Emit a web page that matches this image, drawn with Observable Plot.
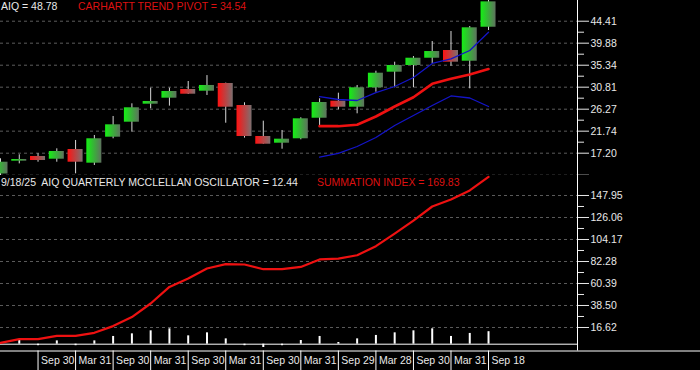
<!DOCTYPE html>
<html><head><meta charset="utf-8">
<script src="https://cdn.jsdelivr.net/npm/d3@7"></script>
<script src="https://cdn.jsdelivr.net/npm/@observablehq/plot@0.6"></script>
<style>
html,body{margin:0;padding:0;background:#000;}
#chart{position:relative;width:700px;height:370px;background:#000;overflow:hidden;font-family:"Liberation Sans",Arial,sans-serif;}
#chart svg{position:absolute;left:0;display:block;}
.lbl{position:absolute;font-size:10.5px;white-space:pre;line-height:12px;}
</style></head><body><div id="chart"></div>
<script>
// ---- data (quarterly) ----
const quarters = d3.range(27);
const openV  = [12.91,15.55,16.52,15.96,17.96,15.14,20.50,23.59,27.30,28.54,30.33,29.98,31.57,27.03,20.64,19.26,20.17,24.41,27.92,26.68,30.68,33.90,35.28,36.78,38.37,36.16,43.17];
const highV  = [16.05,16.87,17.08,18.10,19.82,20.85,24.77,27.38,30.60,30.60,31.98,33.20,31.65,27.59,23.80,21.88,24.50,28.41,29.57,31.16,34.10,35.96,37.13,40.22,42.29,43.32,48.78];
const lowV   = [12.50,15.00,15.34,15.34,12.95,14.66,20.17,21.53,26.35,26.90,29.30,29.10,23.38,20.30,19.05,18.02,19.96,22.91,26.15,25.32,29.77,30.68,30.68,35.63,35.13,30.47,42.49];
const closeV = [15.34,15.90,15.69,17.55,15.34,20.17,23.05,26.56,27.86,29.92,29.36,31.16,26.68,20.64,19.05,20.09,24.29,27.65,26.68,30.68,33.69,35.28,36.78,38.16,35.96,43.05,48.40];

const bandStart = 17;
const pivotV = [22.77,22.77,23.05,24.76,26.83,28.74,31.50,32.54,33.42,34.54];
const upperV = [28.88,28.27,28.06,29.70,30.95,32.80,35.70,36.66,38.37,42.14];
const lowerV = [16.37,17.14,18.58,20.44,22.91,24.97,27.03,29.00,28.58,26.83];

const siV  = [1.3,5,5,8.3,8.3,11.3,18,27,40.5,57,65.4,75.3,79.6,79.3,74.6,74.6,76.9,84.3,85.2,88.5,97.5,110,123,137,144,153,166.5];
const oscV = [null,4.3,-1.5,3.3,-1.5,3.3,7.7,10.3,13.3,15.3,8.3,11.3,5.3,-1.5,-3.3,-1.5,3.7,7.7,1.7,5.3,8.7,11.3,13.3,15.3,7.7,10.7,12.44];

const topTickV = [17.20,21.74,26.27,30.81,35.34,39.88,44.41];
const topEdgeTick = 12.665;
const botTickV = [16.62,38.50,60.39,82.28,104.17,126.06,147.95];
const xLabelIdx = [2,4,6,8,10,12,14,16,18,20,22,24,26];
const xLabels = ["Sep 30","Mar 31","Sep 30","Mar 31","Sep 30","Mar 31","Sep 30","Mar 31","Sep 29","Mar 28","Sep 30","Mar 31","Sep 18"];

const hdrPrice = "AIQ = 48.78";
const hdrPivot = "CARHARTT TREND PIVOT = 34.54";
const hdrOsc = "9/18/25  AIQ QUARTERLY MCCLELLAN OSCILLATOR = 12.44";
const hdrSI = "SUMMATION INDEX = 169.83";

// ---- build ----
const FONT = '"Liberation Sans", Arial, sans-serif';
const GRID = "#5c5c5c";
const RED = "#ee1111";
const BLUE = "#1414c8";
const WHITE = "#e8e8e8";
const xDomain = [0, 30.74];
const topDomain = [12.60, 48.68];
const botDomain = [-0.31, 167.85];

const candles = quarters.map(i => ({i, o: openV[i], h: highV[i], l: lowV[i], c: closeV[i]}));
const ups = candles.filter(d => d.c >= d.o);
const dns = candles.filter(d => d.c < d.o);
const band = (arr) => arr.map((v, k) => ({i: bandStart + k, v}));
const si = quarters.map(i => ({i, v: siV[i]}));
const osc = quarters.map(i => ({i, v: oscV[i]})).filter(d => d.v != null);
const mids = (a) => a.slice(1).map((v, k) => (v + a[k]) / 2);

const xs = Plot.scale({x: {domain: xDomain, range: [0, 577]}});
const yb = Plot.scale({y: {domain: botDomain, range: [169, 0]}});

const plotStyle = {background: "transparent", color: WHITE, fontFamily: FONT, fontSize: "10.5px"};

const topSvg = Plot.plot({
  width: 700, height: 175, marginLeft: 0, marginRight: 123, marginTop: 0, marginBottom: 0,
  style: plotStyle,
  x: {domain: xDomain, axis: null},
  y: {domain: topDomain, axis: null},
  marks: [
    Plot.ruleY([...topTickV, topEdgeTick], {stroke: GRID, strokeDasharray: "3,3"}),
    Plot.ruleX(candles, {x: "i", y1: "l", y2: "h", stroke: "#d8d8d8"}),
    Plot.rect(ups, {x1: d => d.i - 0.4, x2: d => d.i + 0.4, y1: "o", y2: "c", fill: "url(#gUp)"}),
    Plot.rect(dns, {x1: d => d.i - 0.4, x2: d => d.i + 0.4, y1: "o", y2: "c", fill: "url(#gDn)"}),
    Plot.line(band(upperV), {x: "i", y: "v", stroke: BLUE, strokeWidth: 1.3}),
    Plot.line(band(lowerV), {x: "i", y: "v", stroke: BLUE, strokeWidth: 1.3}),
    Plot.line(band(pivotV), {x: "i", y: "v", stroke: RED, strokeWidth: 2.6}),
    Plot.ruleX([xDomain[1]], {stroke: "#fff"}),
    Plot.axisY({anchor: "right", label: null, ticks: [...topTickV, topEdgeTick], tickSize: 11, tickPadding: 2, fontSize: 10.5,
      tickFormat: d => d < 13 ? "" : d.toFixed(2)}),
    Plot.axisY({anchor: "right", label: null, ticks: mids(topTickV), tickSize: 6, tickFormat: () => ""})
  ]
});

const botSvg = Plot.plot({
  width: 700, height: 195, marginLeft: 0, marginRight: 123, marginTop: 0, marginBottom: 26,
  style: plotStyle,
  x: {domain: xDomain, axis: null},
  y: {domain: botDomain, axis: null},
  marks: [
    Plot.ruleY(botTickV, {stroke: GRID, strokeDasharray: "3,3"}),
    Plot.ruleX(osc, {x: "i", y1: 0, y2: "v", stroke: "#fff", strokeWidth: 2}),
    Plot.ruleY([0], {stroke: "#fff"}),
    Plot.line(si, {x: "i", y: "v", stroke: RED, strokeWidth: 2.2}),
    Plot.ruleX([xDomain[1]], {y1: yb.invert(175.5), y2: botDomain[1], stroke: "#fff"}),
    Plot.ruleY([yb.invert(175.5)], {x1: 0, x2: xs.invert(700), stroke: "#fff"}),
    Plot.ruleX(xLabelIdx, {y1: yb.invert(175.5), y2: yb.invert(195), stroke: "#fff"}),
    Plot.text(xLabelIdx, {x: d => d, y: yb.invert(185.5), text: (d, k) => xLabels[k], textAnchor: "start", dx: 3, fill: WHITE, fontSize: 10.5}),
    Plot.axisY({anchor: "right", label: null, ticks: botTickV, tickSize: 11, tickPadding: 2, fontSize: 10.5, tickFormat: d => d.toFixed(2)}),
    Plot.axisY({anchor: "right", label: null, ticks: mids(botTickV), tickSize: 6, tickFormat: () => ""})
  ]
});

// gradients for candle bodies
const NS = "http://www.w3.org/2000/svg";
function addDefs(svg) {
  const defs = document.createElementNS(NS, "defs");
  const mk = (id, c0, c1) => {
    const g = document.createElementNS(NS, "linearGradient");
    g.setAttribute("id", id); g.setAttribute("x1", "0"); g.setAttribute("y1", "0");
    g.setAttribute("x2", "1"); g.setAttribute("y2", "0");
    [[0, c0], [1, c1]].forEach(([o, c]) => {
      const s = document.createElementNS(NS, "stop");
      s.setAttribute("offset", o); s.setAttribute("stop-color", c);
      g.appendChild(s);
    });
    defs.appendChild(g);
  };
  mk("gUp", "#14f014", "#5e725e");
  mk("gDn", "#ff1212", "#7c7070");
  svg.insertBefore(defs, svg.firstChild);
}
addDefs(topSvg);

const chart = document.getElementById("chart");
topSvg.style.top = "0px";
botSvg.style.top = "175px";
chart.appendChild(topSvg);
chart.appendChild(botSvg);

function label(txt, x, y, color) {
  const d = document.createElement("div");
  d.className = "lbl"; d.textContent = txt;
  d.style.left = x + "px"; d.style.top = y + "px"; d.style.color = color;
  chart.appendChild(d);
}
label(hdrPrice, 1, 0, WHITE);
label(hdrPivot, 78, 0, "#dd1111");
label(hdrOsc, 1, 176, WHITE);
label(hdrSI, 317, 176, "#dd1111");
</script>
</body></html>
